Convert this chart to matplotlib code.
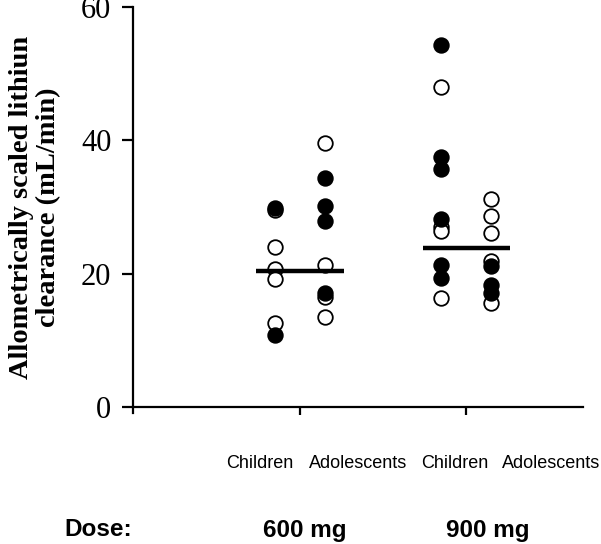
import matplotlib.pyplot as plt

# data (mL/min)
group_x = [0.85, 1.15, 1.85, 2.15]   # child/adolescent columns around dose ticks
open_600_child = [29.5, 24.0, 20.8, 19.2, 12.6]
fill_600_child = [29.8, 10.8]
open_600_adol = [39.6, 21.3, 16.6, 13.5]
fill_600_adol = [34.4, 30.2, 27.9, 17.1]
open_900_child = [48.0, 27.0, 26.5, 16.4]
fill_900_child = [54.3, 37.5, 35.7, 28.2, 21.3, 19.4]
open_900_adol = [31.2, 28.6, 26.1, 21.9, 15.7]
fill_900_adol = [21.2, 18.4, 17.2]

dose_ticks = [1, 2]
dose_labels = ["600 mg", "900 mg"]
dose_label_x = [1.03, 2.13]
medians = [20.4, 23.9]
group_labels = ["Children", "Adolescents", "Children", "Adolescents"]
group_label_x = [0.76, 1.35, 1.93, 2.51]

open_sets = [open_600_child, open_600_adol, open_900_child, open_900_adol]
fill_sets = [fill_600_child, fill_600_adol, fill_900_child, fill_900_adol]

fig = plt.figure(figsize=(6.01, 5.44), dpi=100)
ax = fig.add_axes([0.2213, 0.2415, 0.7487, 0.7456])

# open circles first, filled on top
for x, vals in zip(group_x, open_sets):
    ax.plot([x] * len(vals), vals, 'o', ms=10.5, mfc='white', mec='black', mew=1.3, ls='none')
for x, vals in zip(group_x, fill_sets):
    ax.plot([x] * len(vals), vals, 'o', ms=10.5, mfc='black', mec='black', mew=1.3, ls='none')

# median bars
for t, m in zip(dose_ticks, medians):
    ax.plot([t - 0.26, t + 0.265], [m, m], color='black', lw=3.2, solid_capstyle='butt')

ax.set_xlim(0, 2.7)
ax.set_ylim(-0.8, 60)
ax.set_yticks([0, 20, 40, 60])
ax.set_xticks(dose_ticks)
ax.set_xticklabels([])

ax.spines['top'].set_visible(False)
ax.spines['right'].set_visible(False)
ax.spines['bottom'].set_position(('data', 0))
ax.spines['left'].set_linewidth(1.6)
ax.spines['bottom'].set_linewidth(1.6)
ax.tick_params(axis='y', direction='out', length=8, width=1.6, pad=7.5)
ax.tick_params(axis='x', direction='out', length=6, width=1.6)
for lab in ax.get_yticklabels():
    lab.set_fontfamily('Liberation Serif')
    lab.set_fontsize(22)

ax.set_ylabel("Allometrically scaled lithiun\nclearance (mL/min)", fontfamily='Liberation Serif',
              fontweight='bold', fontsize=20.5, linespacing=1.1)
ax.yaxis.set_label_coords(-0.16, 0.507)

trans = ax.get_xaxis_transform()
for x, lab in zip(group_label_x, group_labels):
    ax.text(x, -0.125, lab, transform=trans, ha='center', va='center',
            fontfamily='Liberation Sans', fontsize=13, clip_on=False)

for x, lab in zip(dose_label_x, dose_labels):
    ax.text(x, -0.29, lab, transform=trans, ha='center', va='center',
            fontfamily='Liberation Sans', fontweight='bold', fontsize=17.5, clip_on=False)
fig.text(0.164, 1 - 530 / 544, "Dose:", ha='center', va='center',
         fontfamily='Liberation Sans', fontweight='bold', fontsize=17.5)

fig.savefig("out.png", dpi=100)
